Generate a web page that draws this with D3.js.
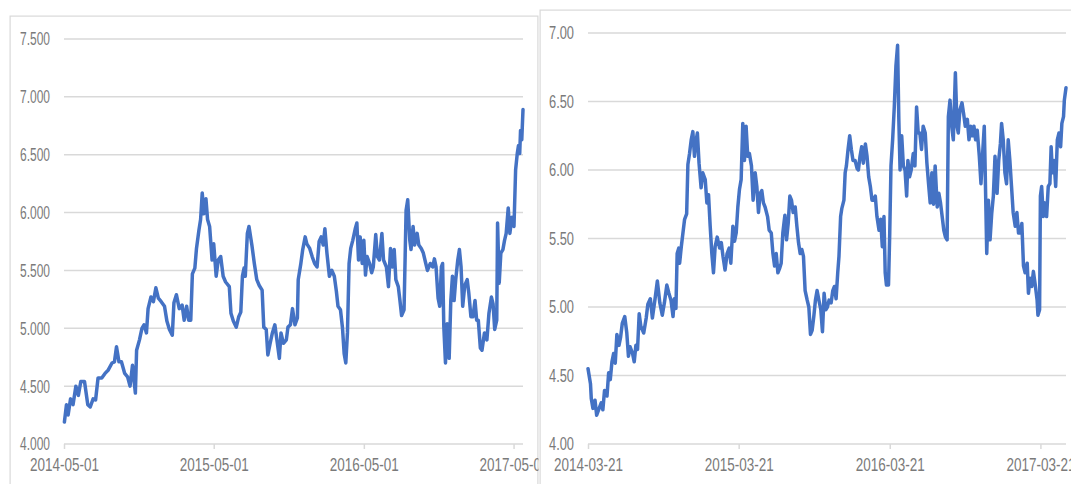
<!DOCTYPE html>
<html>
<head>
<meta charset="utf-8">
<script src="https://cdn.jsdelivr.net/npm/d3@7"></script>
<style>
  html, body { margin: 0; padding: 0; background: #ffffff; }
  svg { display: block; }
  text { font-family: "Liberation Sans", Arial, sans-serif; }
</style>
</head>
<body>
<svg id="chart" width="1071" height="484"></svg>
<script>
// ---------------- DATA ----------------
const leftDates = [
"2014-05-02","2014-05-07","2014-05-11","2014-05-17","2014-05-23","2014-05-30","2014-06-05","2014-06-11","2014-06-20","2014-06-28",
"2014-07-04","2014-07-11","2014-07-17","2014-07-23","2014-08-01","2014-08-09","2014-08-17","2014-08-26","2014-09-01","2014-09-06",
"2014-09-12","2014-09-18","2014-09-26","2014-10-03","2014-10-09","2014-10-15","2014-10-22","2014-10-25","2014-11-01","2014-11-07",
"2014-11-12","2014-11-18","2014-11-22","2014-11-29","2014-12-05","2014-12-11","2014-12-17","2014-12-24","2015-01-01","2015-01-07",
"2015-01-13","2015-01-20","2015-01-24","2015-01-30","2015-02-06","2015-02-13","2015-02-18","2015-02-24","2015-03-01","2015-03-06",
"2015-03-10","2015-03-16","2015-03-20","2015-03-26","2015-03-30","2015-04-03","2015-04-07","2015-04-12","2015-04-16","2015-04-21",
"2015-04-27","2015-05-01","2015-05-07","2015-05-12","2015-05-18","2015-05-24","2015-05-30","2015-06-08","2015-06-12","2015-06-18",
"2015-06-25","2015-07-01","2015-07-06","2015-07-10","2015-07-14","2015-07-17","2015-07-22","2015-07-26","2015-08-02","2015-08-08",
"2015-08-14","2015-08-20","2015-08-27","2015-08-31","2015-09-06","2015-09-10","2015-09-15","2015-09-21","2015-09-27","2015-10-02",
"2015-10-08","2015-10-12","2015-10-18","2015-10-25","2015-10-29","2015-11-04","2015-11-09","2015-11-15","2015-11-21","2015-11-23",
"2015-11-29","2015-12-04","2015-12-10","2015-12-14","2015-12-21","2015-12-27","2016-01-02","2016-01-08","2016-01-13","2016-01-18",
"2016-01-23","2016-01-27","2016-02-01","2016-02-07","2016-02-13","2016-02-19","2016-02-24","2016-02-28","2016-03-05","2016-03-10",
"2016-03-14","2016-03-18","2016-03-22","2016-03-26","2016-03-30","2016-04-04","2016-04-10","2016-04-14","2016-04-18","2016-04-22",
"2016-04-27","2016-05-01","2016-05-05","2016-05-09","2016-05-15","2016-05-20","2016-05-24","2016-05-30","2016-06-03","2016-06-08",
"2016-06-14","2016-06-18","2016-06-25","2016-06-30","2016-07-05","2016-07-10","2016-07-14","2016-07-18","2016-07-24","2016-07-28",
"2016-08-01","2016-08-07","2016-08-12","2016-08-16","2016-08-21","2016-08-24","2016-08-29","2016-09-02","2016-09-08","2016-09-12",
"2016-09-18","2016-09-23","2016-09-29","2016-10-03","2016-10-10","2016-10-16","2016-10-20","2016-10-24","2016-10-29","2016-11-02",
"2016-11-06","2016-11-09","2016-11-12","2016-11-16","2016-11-20","2016-11-25","2016-11-29","2016-12-03","2016-12-07","2016-12-11",
"2016-12-16","2016-12-20","2016-12-24","2016-12-28","2017-01-02","2017-01-08","2017-01-12","2017-01-17","2017-01-22","2017-01-27",
"2017-01-31","2017-02-04","2017-02-09","2017-02-13","2017-02-19","2017-02-25","2017-03-02","2017-03-08","2017-03-12","2017-03-16",
"2017-03-21","2017-03-23","2017-03-27","2017-03-31","2017-04-05","2017-04-09","2017-04-13","2017-04-18","2017-04-22","2017-04-27",
"2017-05-02","2017-05-06","2017-05-10","2017-05-13","2017-05-16","2017-05-18","2017-05-21","2017-05-24"
];
const leftValues = [
4.19,4.34,4.25,4.39,4.34,4.50,4.42,4.54,4.54,4.34,
4.32,4.39,4.38,4.57,4.57,4.61,4.64,4.70,4.71,4.84,
4.71,4.71,4.61,4.58,4.50,4.68,4.44,4.81,4.90,5.00,
5.03,4.96,5.17,5.27,5.23,5.35,5.26,5.23,5.19,5.06,
4.99,4.94,5.22,5.29,5.17,5.20,5.07,5.19,5.07,5.07,
5.47,5.52,5.69,5.85,5.94,6.17,5.99,6.12,5.94,5.88,
5.59,5.73,5.45,5.59,5.62,5.45,5.40,5.36,5.13,5.06,
5.01,5.10,5.14,5.45,5.52,5.45,5.82,5.88,5.72,5.56,
5.42,5.37,5.33,5.01,4.99,4.77,4.86,4.96,5.03,4.90,
4.74,4.96,4.87,4.90,5.01,5.03,5.17,5.03,5.09,5.42,
5.55,5.68,5.79,5.73,5.69,5.62,5.56,5.53,5.75,5.79,
5.72,5.86,5.65,5.45,5.50,5.45,5.32,5.19,5.16,5.00,
4.78,4.70,4.96,5.56,5.69,5.76,5.86,5.91,5.59,5.79,
5.56,5.76,5.46,5.62,5.56,5.48,5.53,5.81,5.62,5.59,
5.82,5.59,5.53,5.36,5.69,5.53,5.68,5.42,5.36,5.24,
5.11,5.16,6.02,6.11,5.76,5.68,5.88,5.72,5.82,5.72,
5.69,5.65,5.56,5.50,5.56,5.53,5.60,5.53,5.26,5.19,
5.53,5.56,5.01,4.70,5.04,4.74,5.24,5.45,5.24,5.42,
5.59,5.68,5.53,5.19,5.37,5.42,5.30,5.10,5.10,5.24,
5.07,5.07,4.83,4.81,4.96,4.90,5.13,5.27,5.21,4.99,
5.07,5.91,5.39,5.65,5.68,5.76,5.82,6.04,5.82,5.96,
5.88,6.37,6.51,6.58,6.51,6.71,6.63,6.89
];

const rightDates = [
"2014-03-21","2014-03-27","2014-03-29","2014-04-02","2014-04-07","2014-04-11","2014-04-17","2014-04-22","2014-04-26","2014-04-30",
"2014-05-06","2014-05-10","2014-05-14","2014-05-18","2014-05-22","2014-05-26","2014-05-30","2014-06-04","2014-06-08","2014-06-12",
"2014-06-18","2014-06-23","2014-06-27","2014-07-01","2014-07-07","2014-07-11","2014-07-15","2014-07-19","2014-07-23","2014-07-27",
"2014-08-03","2014-08-09","2014-08-13","2014-08-19","2014-08-24","2014-08-30","2014-09-05","2014-09-11","2014-09-17","2014-09-22",
"2014-09-28","2014-10-03","2014-10-08","2014-10-13","2014-10-16","2014-10-20","2014-10-23","2014-10-27","2014-10-29","2014-11-02",
"2014-11-06","2014-11-10","2014-11-15","2014-11-18","2014-11-22","2014-11-26","2014-11-30","2014-12-04","2014-12-07","2014-12-11",
"2014-12-15","2014-12-20","2014-12-24","2014-12-30","2015-01-03","2015-01-07","2015-01-11","2015-01-15","2015-01-19","2015-01-23",
"2015-01-28","2015-02-03","2015-02-07","2015-02-11","2015-02-16","2015-02-21","2015-02-26","2015-03-02","2015-03-07","2015-03-11",
"2015-03-15","2015-03-19","2015-03-23","2015-03-27","2015-03-31","2015-04-04","2015-04-08","2015-04-12","2015-04-16","2015-04-21",
"2015-04-25","2015-04-30","2015-05-04","2015-05-08","2015-05-12","2015-05-16","2015-05-20","2015-05-24","2015-05-30","2015-06-03",
"2015-06-08","2015-06-12","2015-06-16","2015-06-20","2015-06-24","2015-06-28","2015-07-02","2015-07-06","2015-07-11","2015-07-15",
"2015-07-19","2015-07-23","2015-07-27","2015-07-31","2015-08-05","2015-08-09","2015-08-13","2015-08-17","2015-08-21","2015-08-25",
"2015-08-29","2015-09-03","2015-09-07","2015-09-11","2015-09-15","2015-09-19","2015-09-23","2015-09-27","2015-10-02","2015-10-06",
"2015-10-10","2015-10-14","2015-10-18","2015-10-22","2015-10-26","2015-10-31","2015-11-04","2015-11-08","2015-11-12","2015-11-16",
"2015-11-19","2015-11-23","2015-11-26","2015-12-01","2015-12-04","2015-12-07","2015-12-11","2015-12-15","2015-12-19","2015-12-23",
"2015-12-28","2016-01-02","2016-01-05","2016-01-09","2016-01-13","2016-01-17","2016-01-22","2016-01-26","2016-01-30","2016-02-03",
"2016-02-07","2016-02-11","2016-02-15","2016-02-19","2016-02-24","2016-02-28","2016-03-03","2016-03-07","2016-03-10","2016-03-13",
"2016-03-18","2016-03-21","2016-03-24","2016-03-28","2016-04-01","2016-04-05","2016-04-09","2016-04-12","2016-04-15","2016-04-19",
"2016-04-23","2016-04-27","2016-05-01","2016-05-04","2016-05-08","2016-05-12","2016-05-17","2016-05-21","2016-05-25","2016-05-29",
"2016-06-02","2016-06-06","2016-06-10","2016-06-15","2016-06-19","2016-06-23","2016-06-27","2016-07-01","2016-07-05","2016-07-09",
"2016-07-14","2016-07-18","2016-07-22","2016-07-26","2016-07-30","2016-08-03","2016-08-07","2016-08-10","2016-08-14","2016-08-18",
"2016-08-22","2016-08-27","2016-08-31","2016-09-03","2016-09-07","2016-09-12","2016-09-16","2016-09-20","2016-09-25","2016-09-29",
"2016-10-03","2016-10-07","2016-10-11","2016-10-15","2016-10-19","2016-10-24","2016-10-28","2016-11-01","2016-11-05","2016-11-07",
"2016-11-11","2016-11-15","2016-11-19","2016-11-23","2016-11-27","2016-12-01","2016-12-06","2016-12-10","2016-12-14","2016-12-17",
"2016-12-21","2016-12-25","2016-12-29","2017-01-02","2017-01-06","2017-01-10","2017-01-14","2017-01-19","2017-01-23","2017-01-27",
"2017-01-31","2017-02-04","2017-02-08","2017-02-12","2017-02-17","2017-02-20","2017-02-24","2017-02-28","2017-03-04","2017-03-09",
"2017-03-13","2017-03-15","2017-03-19","2017-03-21","2017-03-24","2017-03-28","2017-04-01","2017-04-05","2017-04-09","2017-04-13",
"2017-04-16","2017-04-19","2017-04-23","2017-04-27","2017-05-01","2017-05-05","2017-05-09","2017-05-12","2017-05-16","2017-05-18",
"2017-05-22"
];
const rightValues = [
4.55,4.44,4.33,4.26,4.32,4.21,4.26,4.30,4.25,4.39,
4.35,4.52,4.47,4.60,4.66,4.59,4.80,4.72,4.78,4.88,
4.93,4.81,4.64,4.71,4.66,4.60,4.72,4.69,4.95,4.86,
4.81,4.92,5.02,5.06,4.92,5.05,5.19,5.03,4.94,5.03,
5.16,5.10,5.05,4.93,5.06,4.99,5.39,5.43,5.32,5.44,
5.54,5.64,5.68,6.04,6.12,6.22,6.28,6.10,6.20,6.27,
6.05,5.87,5.98,5.93,5.76,5.82,5.59,5.39,5.25,5.44,
5.51,5.43,5.47,5.37,5.27,5.39,5.43,5.32,5.59,5.48,
5.54,5.73,5.86,5.93,6.34,6.07,6.32,6.10,6.12,6.03,
5.78,5.98,5.88,5.69,5.83,5.85,5.76,5.73,5.66,5.56,
5.54,5.39,5.30,5.39,5.25,5.28,5.32,5.54,5.67,5.49,
5.61,5.81,5.78,5.69,5.73,5.59,5.47,5.39,5.42,5.37,
5.12,5.05,5.00,4.80,4.83,4.93,5.05,5.12,5.04,4.98,
4.82,5.10,4.98,5.00,5.05,5.03,5.12,5.15,5.06,5.25,
5.37,5.66,5.72,5.78,5.98,6.03,6.15,6.25,6.15,6.07,
6.07,6.01,6.00,6.10,6.17,6.05,6.19,6.10,5.95,5.88,
5.78,5.78,5.81,5.66,5.56,5.64,5.44,5.66,5.25,5.16,
5.16,5.54,6.03,6.22,6.46,6.76,6.91,6.37,6.00,6.25,
6.03,6.00,5.81,6.07,5.95,6.00,6.12,6.03,6.46,6.27,
6.27,6.15,6.32,6.27,6.05,5.90,5.76,5.98,5.75,6.03,
5.73,5.83,5.76,5.66,5.56,5.51,5.49,6.39,6.51,6.32,
6.22,6.71,6.32,6.27,6.44,6.49,6.41,6.32,6.37,6.22,
6.32,6.25,6.32,6.22,6.29,6.10,5.90,6.12,6.32,6.03,
5.39,5.78,5.49,5.68,5.81,6.10,5.83,6.07,6.19,6.34,
6.22,5.98,5.90,6.22,6.07,5.88,5.69,5.59,5.69,5.54,
5.54,5.61,5.30,5.25,5.32,5.10,5.21,5.15,5.26,5.15,
5.05,4.94,4.98,5.81,5.88,5.66,5.76,5.66,5.88,5.90,
6.17,5.98,6.07,5.88,6.22,6.27,6.17,6.34,6.39,6.51,
6.60
];

const leftYTicks  = [4.0, 4.5, 5.0, 5.5, 6.0, 6.5, 7.0, 7.5];
const rightYTicks = [4.0, 4.5, 5.0, 5.5, 6.0, 6.5, 7.0];
const leftXTicks  = ["2014-05-01", "2015-05-01", "2016-05-01", "2017-05-01"];
const rightXTicks = ["2014-03-21", "2015-03-21", "2016-03-21", "2017-03-21"];
const leftXStart  = "2014-05-01";
const rightXStart = "2014-03-21";

// ---------------- DRAW ----------------
const parse = d3.timeParse("%Y-%m-%d");
const fmtDate = d3.timeFormat("%Y-%m-%d");
const svg = d3.select("#chart");

const GRID = "#d9d9d9";
const TEXT = "#7a7a7a";
const LINE = "#4472c4";

const defs = svg.append("defs");

function drawPanel(cfg) {
  defs.append("clipPath").attr("id", cfg.id + "-clip")
    .append("rect")
    .attr("x", cfg.frame.x).attr("y", cfg.frame.y)
    .attr("width", cfg.frame.w).attr("height", cfg.frame.h);

  const g = svg.append("g").attr("clip-path", `url(#${cfg.id}-clip)`);
  // panel background + frame
  g.append("rect")
    .attr("x", cfg.frame.x).attr("y", cfg.frame.y)
    .attr("width", cfg.frame.w).attr("height", cfg.frame.h)
    .attr("fill", "#ffffff").attr("stroke", GRID).attr("stroke-width", 2.4);

  const dates = cfg.dates.map(parse);
  const x = d3.scaleTime()
    .domain([parse(cfg.xStart), dates[dates.length - 1]])
    .range([cfg.plot.x0, cfg.plot.x1]);
  const y = d3.scaleLinear()
    .domain([cfg.yTicks[0], cfg.yTicks[cfg.yTicks.length - 1]])
    .range([cfg.plot.yBottom, cfg.plot.yTop]);

  // gridlines
  g.append("g").selectAll("line").data(cfg.yTicks).join("line")
    .attr("x1", cfg.plot.x0).attr("x2", cfg.plot.x1)
    .attr("y1", d => y(d)).attr("y2", d => y(d))
    .attr("stroke", GRID).attr("stroke-width", 1.5);

  // y labels
  g.append("g").selectAll("text").data(cfg.yTicks).join("text")
    .attr("x", cfg.yLabelX).attr("y", d => y(d))
    .attr("dy", "0.36em")
    .attr("text-anchor", "end")
    .attr("font-size", 18)
    .attr("fill", TEXT)
    .attr("textLength", cfg.yLabelLen)
    .attr("lengthAdjust", "spacingAndGlyphs")
    .text(d => d3.format(cfg.yFmt)(d));

  // x axis ticks + labels
  const xt = cfg.xTicks.map(parse);
  const xAxis = d3.axisBottom(x).tickValues(xt).tickFormat(fmtDate).tickSize(5).tickSizeOuter(0);
  const ax = g.append("g").attr("transform", `translate(0,${cfg.plot.yBottom})`).call(xAxis);
  ax.select(".domain").remove();
  ax.selectAll(".tick line").attr("stroke", GRID).attr("stroke-width", 1.5);
  ax.selectAll(".tick text")
    .attr("y", 14).attr("dy", "0.71em")
    .attr("font-size", 18)
    .attr("font-family", "Liberation Sans, Arial, sans-serif")
    .attr("fill", TEXT)
    .attr("textLength", 69)
    .attr("lengthAdjust", "spacingAndGlyphs");

  // line
  const pts = dates.map((d, i) => [d, cfg.values[i]]);
  g.append("path").datum(pts)
    .attr("fill", "none")
    .attr("stroke", LINE)
    .attr("stroke-width", 3.5)
    .attr("stroke-linejoin", "round")
    .attr("stroke-linecap", "round")
    .attr("d", d3.line().x(d => x(d[0])).y(d => y(d[1])));
}

drawPanel({
  id: "left",
  frame: { x: 9.5, y: 15.5, w: 529, h: 480 },
  plot: { x0: 64, x1: 523, yTop: 39, yBottom: 444 },
  dates: leftDates, values: leftValues,
  xStart: leftXStart, xTicks: leftXTicks,
  yTicks: leftYTicks, yFmt: ".3f", yLabelX: 50, yLabelLen: 30
});

drawPanel({
  id: "right",
  frame: { x: 539.5, y: 9.5, w: 540, h: 490 },
  plot: { x0: 588, x1: 1066, yTop: 33, yBottom: 444 },
  dates: rightDates, values: rightValues,
  xStart: rightXStart, xTicks: rightXTicks,
  yTicks: rightYTicks, yFmt: ".2f", yLabelX: 574, yLabelLen: 25
});
</script>
</body>
</html>
